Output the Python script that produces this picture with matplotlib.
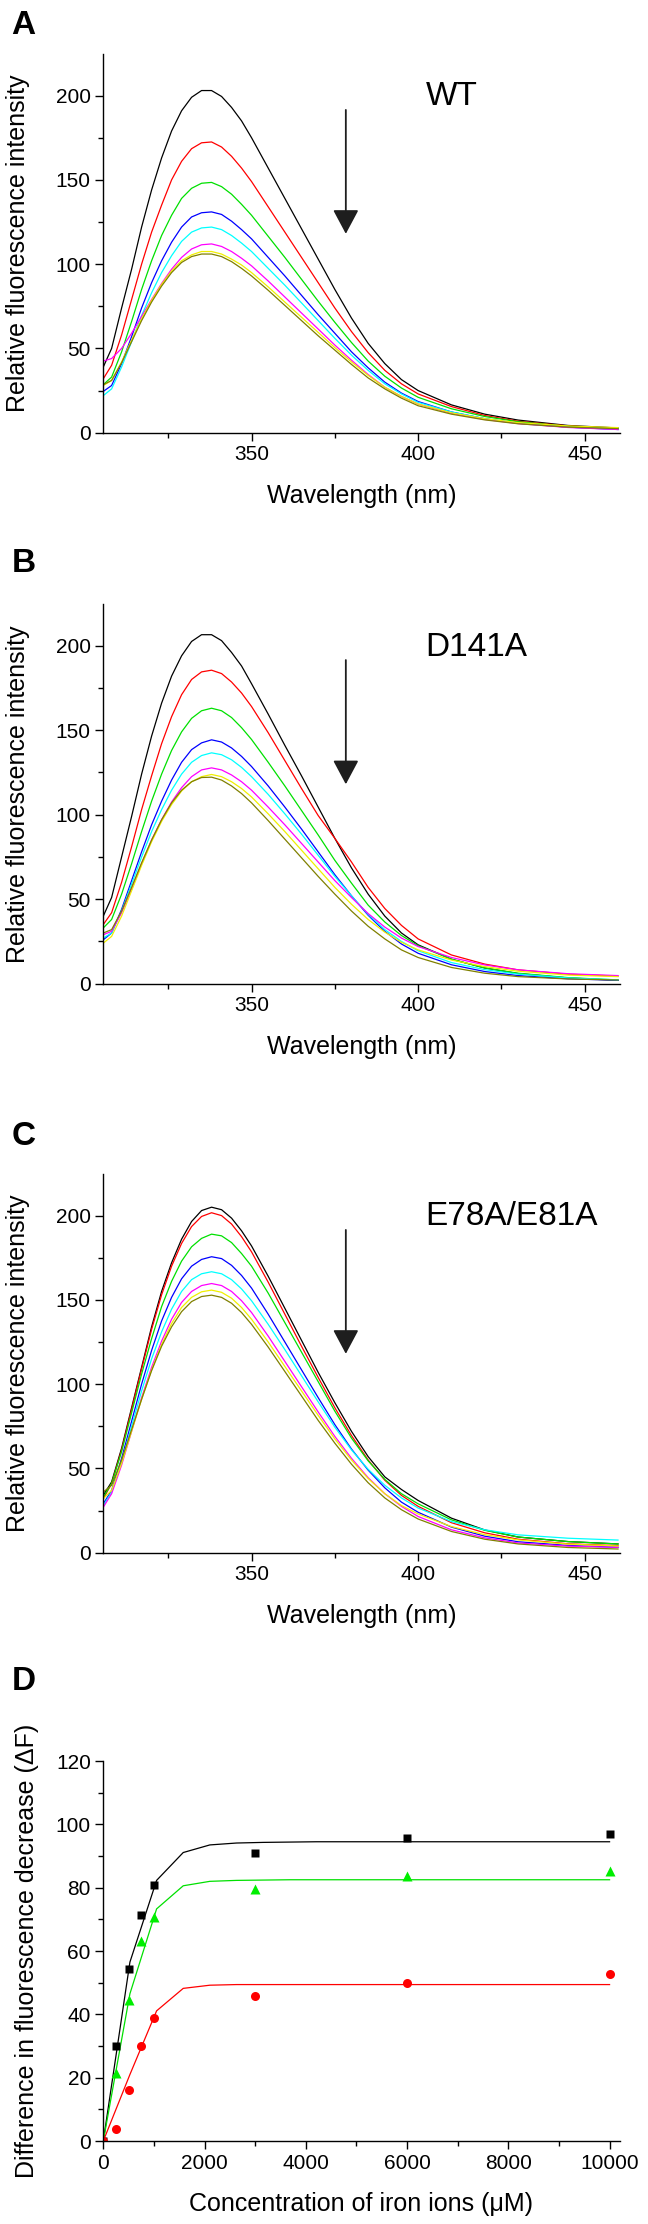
import matplotlib
matplotlib.use('Agg')
import matplotlib.pyplot as plt
from matplotlib.ticker import MultipleLocator

plt.rcParams['font.family'] = ['Liberation Sans', 'DejaVu Sans']

SET_DPI = 100
FIGSIZE = (6.48, 22.24)

# emission wavelengths (nm)
wavelength = [305.5, 308, 311, 314, 317, 320, 323, 326, 329, 332, 335, 338,
              341, 344, 347, 350, 355, 360, 365, 370, 375, 380, 385, 390,
              395, 400, 410, 420, 430, 445, 460]

# one spectrum per iron concentration, order as in the legend colours
wt_spectra = [
    [39, 50, 74, 97, 122, 144, 163, 179, 191, 199, 203, 203, 199.5, 193, 185, 175,
     157, 139, 121, 103, 85, 68, 53, 41, 31.5, 25, 16.5, 11, 7.5, 4.3, 2.8],
    [32, 40, 58, 79, 100, 119, 135, 150, 161, 168.5, 172, 172.5, 169.5, 164, 157, 149,
     134, 119, 104, 89, 74, 60, 47.5, 37, 29, 23, 15.5, 10.2, 6.8, 4, 2.4],
    [28.5, 33, 48, 66, 85, 102, 117, 129, 139, 145, 148, 148.5, 146, 141.5, 135.5, 129,
     116.5, 104, 91, 78, 65.5, 53.5, 42.5, 33.5, 26.5, 21, 14.2, 9.6, 6.5, 3.8, 2.4],
    [24.5, 28, 41, 57, 74, 89, 102, 113, 122, 128, 130.5, 131, 129.5, 125.5, 120.5, 115,
     104, 93, 81.5, 70, 59, 48, 38.5, 30, 23.5, 18.5, 12.3, 8.3, 5.6, 3.3, 1.9],
    [22, 26, 39, 54, 69.5, 83, 95, 105, 113.5, 119, 121.5, 122, 120.5, 117, 112.5, 107.5,
     97.5, 87.5, 77, 66.5, 56, 46, 37, 29, 23, 18, 12.3, 8.3, 5.6, 3.3, 2.1],
    [42.5, 44, 50, 59, 69, 79, 88.5, 97, 104, 109, 111.5, 112, 110.5, 107.5, 103.5, 99,
     90, 80.5, 71, 61.5, 52, 43, 34.5, 27, 21.5, 17, 11.5, 7.9, 5.4, 3.1, 1.9],
    [28, 31, 42, 55, 67.5, 78.5, 88, 96, 102, 105.5, 107.5, 107.5, 106, 103, 99.5, 95,
     86.5, 77.5, 68.5, 59.5, 50.5, 42, 34, 27, 21.5, 17, 11.8, 8.3, 6, 4, 3],
    [28.5, 31, 41.5, 54, 66.5, 77.5, 87, 95, 101, 104.5, 106, 106, 104.5, 101.5, 97.5, 93,
     84.5, 75.5, 66.5, 57.5, 49, 40.5, 32.5, 26, 20.5, 16, 11, 7.6, 5.3, 3.3, 2.4],
]

d141a_spectra = [
    [40, 51, 75, 99, 124, 146.5, 166, 182, 194, 202.5, 206.5, 206.5, 203, 196, 188, 177.5,
     159.5, 141, 123, 104.5, 86, 68.5, 53, 40, 30, 23, 14.5, 9.3, 6, 3.4, 2],
    [35, 42, 60, 81, 103, 123, 142, 158, 171, 180, 184.5, 185.5, 183.5, 178.5, 172, 164,
     148.5, 132, 115.5, 99.5, 86, 72, 57, 44.5, 34.5, 26.5, 17, 11.6, 8.2, 5.6, 4.5],
    [33, 38, 53, 71, 90, 108, 124, 138, 149, 157, 161.5, 163, 161.5, 157.5, 151.5, 144.5,
     131, 117, 102.5, 88, 73, 59.5, 46.5, 36.5, 28.5, 22.5, 14.5, 9.3, 6.2, 3.6, 2.2],
    [26, 30, 44, 61, 78, 94, 108, 120.5, 131, 138.5, 142.5, 144.3, 143, 139.5, 134.5, 128.5,
     117, 104.5, 91.5, 78, 64.5, 52, 40.5, 31, 23.5, 18, 11.2, 7.2, 4.8, 2.9, 2],
    [27, 30, 43, 59, 75, 90, 103, 114.5, 124, 131, 135, 136.6, 135.5, 132.5, 128, 122.5,
     112, 100.5, 88.5, 76, 63.5, 52, 41, 32, 25, 19.5, 12.5, 8.3, 5.7, 3.4, 2.3],
    [29, 31, 42, 56, 71, 85, 97, 107.5, 116, 122.5, 126.5, 127.7, 126.5, 123.5, 119.5, 114.5,
     104.5, 94, 83, 72, 61, 51, 41.5, 33.5, 27, 22, 15.5, 11.1, 8.2, 5.9, 4.8],
    [24, 28, 40, 55, 70, 84, 96, 106, 114, 119.5, 122.5, 123.8, 122.5, 119.5, 115.5, 110.5,
     100.5, 90, 79, 68, 57, 47, 38, 30.5, 24.5, 20, 14, 10.1, 7.4, 5.1, 4.2],
    [30, 32, 43, 57, 71.5, 85, 97, 107, 114.5, 119.5, 122, 122.2, 120.5, 117, 112.5, 107,
     96.5, 85.5, 74.5, 63.5, 53, 43, 34, 26.5, 20, 15.5, 9.6, 6.2, 4.2, 2.8, 2.2],
]

e78a_spectra = [
    [34, 42, 62, 86, 110, 134, 155, 172, 186, 196.5, 203, 205, 203.5, 198.5, 191, 182,
     164, 145, 126, 107, 89, 72, 57, 45, 37.5, 31, 20.5, 13.5, 9.3, 6.6, 5.2],
    [32, 41, 61, 85, 109, 132.5, 153, 170, 183.5, 193.5, 199.5, 201.7, 200, 195, 187.5, 178.5,
     160.5, 141.5, 122.5, 104, 86, 69.5, 55, 43, 34, 27.5, 17.8, 11.8, 8, 5.3, 4.2],
    [33, 41, 60, 83, 106, 127, 146, 161, 173, 181.5, 186.5, 189, 188, 184, 177.5, 170,
     154, 136.5, 119, 101.5, 84, 68, 54.5, 43.5, 35, 29, 19.5, 13.3, 9.3, 6.6, 5.2],
    [29, 37, 56, 78, 100, 120, 137.5, 151.5, 162.5, 170, 174, 175.6, 174.5, 170.5, 164.5, 157,
     141.5, 125, 108.5, 92, 76, 61.5, 49, 38.5, 30, 24, 15.2, 9.8, 6.5, 4.3, 3.2],
    [28, 36, 54, 75, 96, 115, 131, 144.5, 155, 162, 165.5, 166.7, 165.5, 162, 156.5, 149.5,
     135.5, 120.5, 105, 89.5, 74.5, 61, 49.5, 40, 32.5, 26.5, 18.5, 13.6, 10.6, 8.6, 7.5],
    [27, 35, 52, 72, 92, 110, 125.5, 138.5, 148.5, 155, 158.5, 159.7, 158.5, 155, 149.5, 142.5,
     128.5, 113.5, 98.5, 83.5, 69, 56, 44.5, 35, 27.5, 21.5, 13.6, 8.8, 5.8, 3.9, 3.2],
    [32, 37, 53, 72, 91, 108.5, 123.5, 136, 145.5, 151.5, 154.8, 155.8, 154.5, 151, 145.5, 138.5,
     125, 110.5, 96, 81.5, 67.5, 55, 44, 35, 28, 23, 15.5, 10.7, 7.6, 5.1, 4],
    [36, 40, 55, 73, 91, 108, 122.5, 134, 143, 149, 152, 152.8, 151.5, 148, 142.5, 135.5,
     122, 107.5, 93, 78.5, 65, 52.5, 41.5, 32.5, 25.5, 20, 12.6, 8, 5.2, 3.1, 2.2],
]

spectrum_colors = ['#000000', '#ff0000', '#00e000', '#0000ff',
                   '#00ffff', '#ff00ff', '#f0f000', '#808000']

# titration (panel D)
conc = [0, 250, 500, 750, 1000, 3000, 6000, 10000]
dF_wt = [0, 30.1, 54.3, 71.5, 80.7, 90.8, 95.6, 96.8]
dF_d141a = [0, 21.6, 44.5, 63.2, 70.6, 79.5, 83.7, 85.3]
dF_e78a = [0, 3.7, 16.1, 30.0, 38.7, 45.9, 49.8, 52.7]

fit_conc = [0, 526, 1053, 1579, 2105, 2632, 3158, 3684, 4211, 4737, 5263,
            5789, 6316, 6842, 7368, 7895, 8421, 8947, 9474, 10000]
fit_wt = [0, 56.5, 82.3, 91.1, 93.5, 94.1, 94.3, 94.4, 94.5, 94.5, 94.5,
          94.5, 94.5, 94.5, 94.5, 94.5, 94.5, 94.5, 94.5, 94.5]
fit_d141a = [0, 46.5, 73.3, 80.6, 82.0, 82.3, 82.4, 82.5, 82.5, 82.5, 82.5,
             82.5, 82.5, 82.5, 82.5, 82.5, 82.5, 82.5, 82.5, 82.5]
fit_e78a = [0, 21.0, 41.1, 48.2, 49.2, 49.4, 49.4, 49.4, 49.4, 49.4, 49.4,
            49.4, 49.4, 49.4, 49.4, 49.4, 49.4, 49.4, 49.4, 49.4]

TICK_FS = 15
LABEL_FS = 18


def style_axes(ax):
    for side in ('top', 'right'):
        ax.spines[side].set_visible(False)
    for side in ('left', 'bottom'):
        ax.spines[side].set_linewidth(1.0)
    ax.tick_params(which='major', direction='out', length=6, width=1.0,
                   labelsize=TICK_FS, pad=3)
    ax.tick_params(which='minor', direction='out', length=3.5, width=1.0)


def plot_spectra(ax, spectra, name):
    for values, color in zip(spectra, spectrum_colors):
        ax.plot(wavelength, values, '-', color=color, lw=0.9)
    ax.set_xlim(305.5, 460.5)
    ax.set_ylim(0, 224.5)
    ax.xaxis.set_major_locator(MultipleLocator(50))
    ax.xaxis.set_minor_locator(MultipleLocator(25))
    ax.yaxis.set_major_locator(MultipleLocator(50))
    ax.yaxis.set_minor_locator(MultipleLocator(25))
    style_axes(ax)
    ax.set_xlabel('Wavelength (nm)', fontsize=LABEL_FS)
    ax.set_ylabel('Relative fluorescence intensity', fontsize=LABEL_FS)
    ax.xaxis.set_label_coords(0.5, -0.135)
    ax.yaxis.set_label_coords(-0.142, 0.5)
    ax.text(402.2, 199.2, name, fontsize=24, ha='left', va='center')
    ax.annotate('', xy=(378.3, 118), xytext=(378.3, 191.5),
                arrowprops=dict(arrowstyle='-|>,head_length=0.75,head_width=0.4',
                                color='#1e1e1e', lw=1.3, mutation_scale=20,
                                shrinkA=0, shrinkB=0))


fig = plt.figure(figsize=FIGSIZE, dpi=SET_DPI)
left, width = 0.1594, 0.7969

ax_a = fig.add_axes([left, 0.80544, width, 0.17014])
plot_spectra(ax_a, wt_spectra, 'WT')
ax_b = fig.add_axes([left, 0.55769, width, 0.1706])
plot_spectra(ax_b, d141a_spectra, 'D141A')
ax_c = fig.add_axes([left, 0.30184, width, 0.17014])
plot_spectra(ax_c, e78a_spectra, 'E78A/E81A')

ax_d = fig.add_axes([left, 0.03732, width, 0.17086])
ax_d.plot(fit_conc, fit_wt, '-', color='#000000', lw=0.9)
ax_d.plot(fit_conc, fit_d141a, '-', color='#00e000', lw=0.9)
ax_d.plot(fit_conc, fit_e78a, '-', color='#ff0000', lw=0.9)
ax_d.plot(conc, dF_wt, 's', color='#000000', ms=6, mec='none')
ax_d.plot(conc, dF_d141a, '^', color='#00ee00', ms=7.5, mec='none')
ax_d.plot(conc, dF_e78a, 'o', color='#ff0000', ms=6.5, mec='none')
ax_d.set_xlim(0, 10200)
ax_d.set_ylim(0, 120)
ax_d.xaxis.set_major_locator(MultipleLocator(2000))
ax_d.xaxis.set_minor_locator(MultipleLocator(1000))
ax_d.yaxis.set_major_locator(MultipleLocator(20))
ax_d.yaxis.set_minor_locator(MultipleLocator(10))
style_axes(ax_d)
ax_d.set_xlabel('Concentration of iron ions (\u03bcM)', fontsize=LABEL_FS)
ax_d.set_ylabel('Difference in fluorescence decrease (\u0394F)', fontsize=LABEL_FS)
ax_d.xaxis.set_label_coords(0.5, -0.134)
ax_d.yaxis.set_label_coords(-0.1245, 0.5)

for letter, y in (('A', 0.98831), ('B', 0.74685), ('C', 0.48876), ('D', 0.24393)):
    fig.text(0.0363, y, letter, fontsize=24, fontweight='bold', ha='center', va='center')

fig.savefig('out.png', dpi=SET_DPI)
plt.close(fig)
